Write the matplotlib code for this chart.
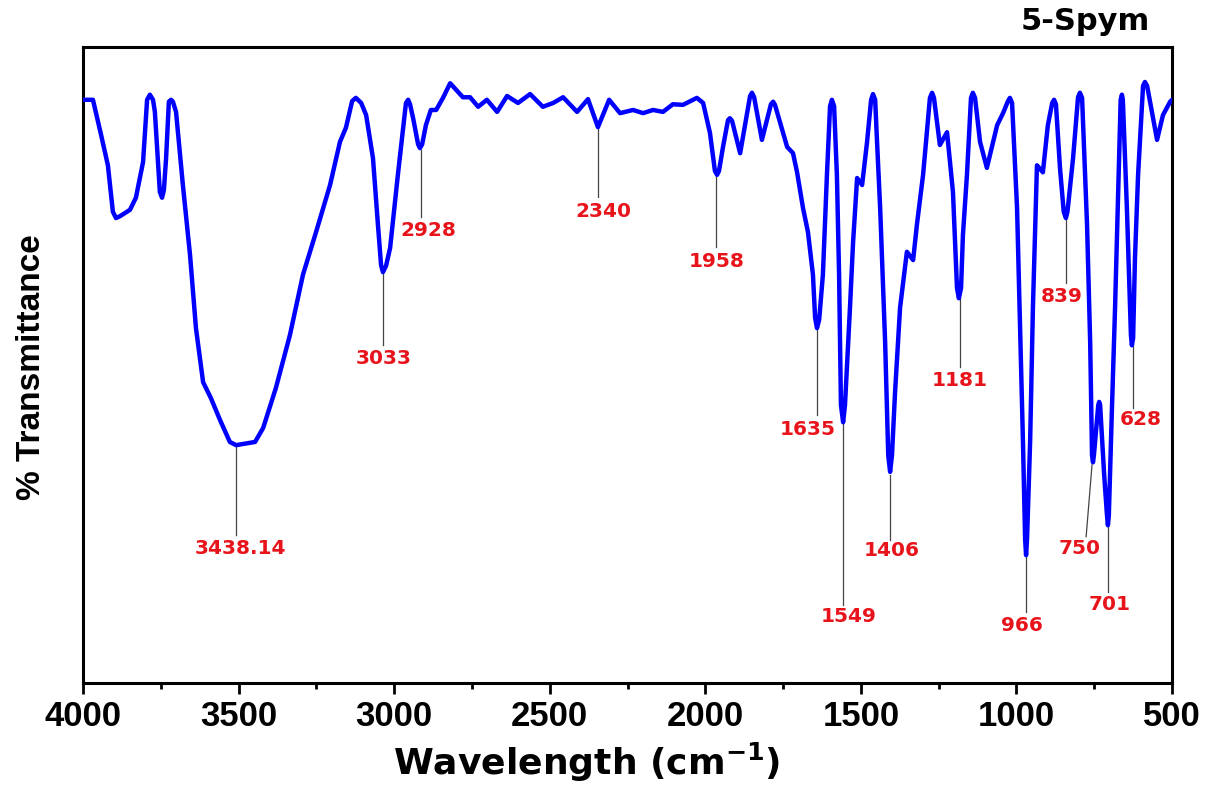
"""
FTIR spectrum of 5-Spym with labelled absorption bands.
"""

import matplotlib
matplotlib.use("Agg")
import matplotlib.pyplot as plt
from matplotlib.ticker import MultipleLocator

# spectrum (wavenumber cm-1, % transmittance, arbitrary scale)
wavenumber = [
    4000, 3968, 3942, 3920, 3904, 3894, 3881, 3849, 3830, 3807,
    3794, 3785, 3775, 3769, 3753, 3746, 3740, 3733, 3724, 3717,
    3711, 3701, 3679, 3656, 3637, 3614, 3589, 3560, 3528, 3508,
    3447, 3421, 3380, 3335, 3293, 3251, 3206, 3174, 3155, 3135,
    3123, 3106, 3090, 3068, 3052, 3042, 3036, 3026, 3013, 2988,
    2962, 2955, 2949, 2939, 2923, 2917, 2910, 2898, 2882, 2865,
    2843, 2820, 2779, 2756, 2730, 2702, 2669, 2637, 2602, 2563,
    2522, 2489, 2457, 2412, 2377, 2345, 2309, 2274, 2232, 2200,
    2168, 2136, 2104, 2072, 2027, 2007, 1985, 1969, 1962, 1956,
    1943, 1927, 1921, 1914, 1888, 1856, 1850, 1843, 1818, 1789,
    1782, 1776, 1737, 1718, 1705, 1686, 1670, 1654, 1647, 1641,
    1634, 1622, 1609, 1599, 1593, 1586, 1577, 1570, 1564, 1557,
    1551, 1535, 1525, 1512, 1496, 1480, 1467, 1461, 1454, 1448,
    1438, 1422, 1412, 1406, 1400, 1390, 1374, 1352, 1332, 1320,
    1300, 1278, 1271, 1265, 1246, 1223, 1204, 1191, 1185, 1178,
    1172, 1159, 1146, 1140, 1133, 1117, 1095, 1062, 1043, 1027,
    1021, 1014, 998, 979, 972, 969, 966, 956, 947, 934,
    915, 899, 885, 879, 873, 860, 848, 841, 836, 818,
    802, 796, 789, 773, 763, 757, 754, 751, 737, 734,
    731, 718, 709, 706, 703, 693, 683, 673, 665, 661,
    658, 645, 632, 629, 625, 619, 609, 593, 587, 580,
    561, 548, 529, 506, 500,
]
transmittance = [
    91.7, 91.7, 86.2, 81.4, 74.1, 73.1, 73.4, 74.4, 76.3, 81.9,
    91.7, 92.5, 91.7, 89.8, 77.2, 76.3, 77.5, 82.5, 91.4, 91.7,
    91.4, 89.8, 78.3, 67.3, 55.8, 47.3, 44.8, 41.4, 37.9, 37.4,
    37.9, 40.1, 46.4, 54.7, 64.2, 70.9, 78.3, 85.1, 87.3, 91.5,
    92.0, 91.2, 89.3, 82.5, 72.0, 65.7, 64.6, 65.6, 68.4, 79.9,
    91.2, 91.7, 91.0, 88.8, 84.7, 84.1, 84.7, 87.7, 90.1, 90.1,
    92.0, 94.3, 92.1, 92.1, 90.6, 91.7, 89.8, 92.3, 91.2, 92.6,
    90.6, 91.2, 92.1, 89.8, 91.8, 87.4, 91.7, 89.6, 90.1, 89.6,
    90.1, 89.8, 91.0, 90.9, 92.0, 91.2, 86.5, 80.5, 79.9, 80.5,
    84.3, 88.5, 88.8, 88.4, 83.3, 92.3, 92.8, 92.1, 85.4, 91.0,
    91.4, 90.9, 84.3, 83.3, 80.3, 74.7, 70.9, 64.2, 57.4, 55.8,
    57.1, 64.2, 79.9, 90.7, 91.7, 90.7, 79.9, 64.2, 43.7, 41.0,
    43.7, 59.0, 69.3, 79.4, 78.3, 85.1, 91.7, 92.6, 91.7, 85.1,
    74.7, 53.6, 35.8, 33.2, 35.8, 45.8, 59.0, 67.8, 66.5, 72.0,
    79.9, 92.0, 92.8, 92.0, 84.6, 86.6, 77.2, 62.1, 60.5, 62.1,
    70.4, 79.9, 92.0, 92.8, 92.0, 85.1, 81.0, 87.7, 89.6, 91.5,
    92.0, 91.2, 74.7, 37.9, 22.5, 20.1, 22.5, 37.9, 59.0, 81.4,
    80.3, 87.7, 91.2, 91.7, 91.0, 81.0, 74.1, 73.1, 74.1, 82.5,
    92.1, 92.8, 92.0, 72.0, 53.6, 35.8, 34.7, 35.8, 43.7, 44.2,
    43.7, 32.7, 26.4, 24.8, 26.4, 43.2, 59.0, 77.2, 91.7, 92.5,
    91.7, 74.7, 54.7, 53.1, 54.2, 66.8, 79.9, 93.9, 94.5, 93.9,
    88.8, 85.4, 89.3, 91.4, 91.7,
]

# band labels: text, leader line (x0, y0) -> (x1, y1), text centre
band_text = ["3438.14", "3033", "2928", "2340", "1958", "1635", "1549",
             "1406", "1181", "966", "839", "750", "701", "628"]
leader_x0 = [3508, 3036, 2914, 2345, 1965, 1641, 1557, 1406, 1181, 969, 841, 757, 706, 625]
leader_y0 = [37.1, 64.6, 83.8, 87.3, 79.9, 55.5, 40.9, 32.7, 60.5, 20.1, 73.1, 34.3, 24.5, 53.1]
leader_x1 = [3508, 3036, 2914, 2345, 1965, 1641, 1557, 1406, 1181, 969, 841, 776, 706, 625]
leader_y1 = [23.3, 53.1, 73.3, 76.4, 68.6, 42.1, 12.3, 22.5, 49.7, 11.2, 62.9, 23.0, 14.3, 43.2]
text_x = [3495, 3033, 2891, 2329, 1962, 1670, 1538, 1400, 1181, 982, 853, 796, 702, 600]
text_y = [21.2, 51.1, 71.2, 74.1, 66.2, 39.8, 10.5, 20.8, 47.6, 9.1, 60.7, 21.2, 12.4, 41.4]

SAMPLE = "5-Spym"


def plot_spectrum():
    plt.rcParams["mathtext.default"] = "bf"
    fig = plt.figure(figsize=(12.06, 7.87), dpi=100)
    ax = fig.add_axes([83 / 1206, 104 / 787, 1089 / 1206, 636 / 787])

    ax.plot(wavenumber, transmittance, color="#0000ff", linewidth=3.2,
            solid_joinstyle="round", solid_capstyle="round", zorder=3)

    for i, txt in enumerate(band_text):
        ax.plot([leader_x0[i], leader_x1[i]], [leader_y0[i], leader_y1[i]],
                color="#444444", linewidth=0.9, zorder=2)
        ax.text(text_x[i], text_y[i], txt, color="#e8141c", fontsize=14.5,
                fontweight="bold", family="DejaVu Sans", ha="center", va="center")

    ax.set_xlim(4000, 500)
    ax.set_ylim(0, 100)
    ax.xaxis.set_major_locator(MultipleLocator(500))
    ax.xaxis.set_minor_locator(MultipleLocator(250))
    ax.tick_params(axis="x", which="major", direction="out", length=8, width=2,
                   pad=4, labelsize=25)
    ax.tick_params(axis="x", which="minor", direction="out", length=4.5, width=2)
    ax.set_yticks([])
    for lbl in ax.get_xticklabels():
        lbl.set_fontfamily("Liberation Sans")
        lbl.set_fontweight("bold")
    for sp in ax.spines.values():
        sp.set_linewidth(2.2)

    fig.text(587 / 1206, 1 - 762 / 787, "Wavelength (cm$^{-1}$)", fontsize=26,
             fontweight="bold", family="DejaVu Sans", ha="center", va="center")
    fig.text(32 / 1206, 1 - 367 / 787, "% Transmittance", fontsize=24,
             fontweight="bold", family="Liberation Sans", rotation=90,
             ha="center", va="center")
    fig.text(1150 / 1206, 1 - 22 / 787, SAMPLE, fontsize=22, fontweight="bold",
             family="DejaVu Sans", ha="right", va="center")

    fig.savefig("out.png", dpi=100)
    plt.close(fig)


if __name__ == "__main__":
    plot_spectrum()
